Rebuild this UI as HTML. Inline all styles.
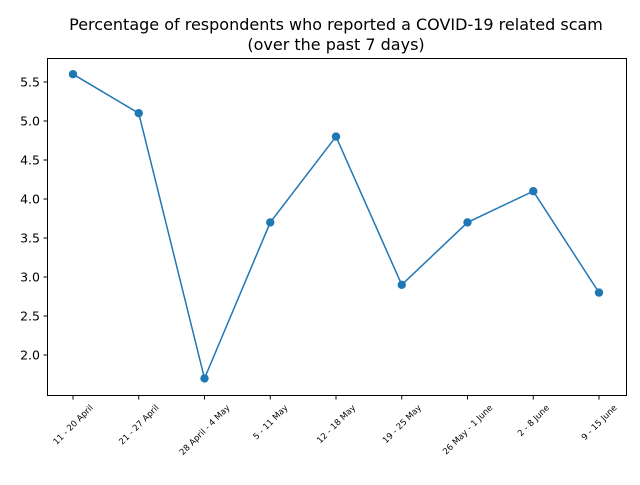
<!DOCTYPE html>
<html><head><meta charset="utf-8"><style>
body{margin:0;background:#fff;font-family:"Liberation Sans","DejaVu Sans",sans-serif;}
</style></head><body>
<svg id="chart" width="640" height="480" xmlns="http://www.w3.org/2000/svg" font-family="DejaVu Sans, Liberation Sans, sans-serif">
<rect width="640" height="480" fill="#fff"/>
<text x="336" y="30" text-anchor="middle" font-size="16">Percentage of respondents who reported a COVID-19 related scam</text>
<text x="336" y="50" text-anchor="middle" font-size="16">(over the past 7 days)</text>
<g id="axes"></g>
<g id="marks"></g>
<rect x="47.5" y="58.5" width="579" height="337" fill="none" stroke="#000" stroke-width="1"/>
</svg>
<script>
const categories=["11 - 20 April","21 - 27 April","28 April - 4 May","5 - 11 May","12 - 18 May","19 - 25 May","26 May - 1 June","2 - 8 June","9 - 15 June"];
const values=[5.6,5.1,1.7,3.7,4.8,2.9,3.7,4.1,2.8];
const yTicks=[2.0,2.5,3.0,3.5,4.0,4.5,5.0,5.5];
const NS="http://www.w3.org/2000/svg";
function xs(i){return 73+i*65.75;}
function ys(v){return 355-(v-2)*78;}
const axes=document.getElementById('axes'),marks=document.getElementById('marks');
function mk(t,a,p){const e=document.createElementNS(NS,t);for(const k in a)e.setAttribute(k,a[k]);p.appendChild(e);return e;}
yTicks.forEach(v=>{
 const l=mk('line',{x1:43.5,x2:47.5,y1:ys(v),y2:ys(v),stroke:'#000'},axes);
 
 
 const t=mk('text',{x:40,y:ys(v)+4.5,'text-anchor':'end','font-size':'12.5'},axes);
 t.textContent=v.toFixed(1);
 
 
});
categories.forEach((c,i)=>{
 const x=xs(i);
 const l=mk('line',{x1:x,x2:x,y1:395.5,y2:399.5,stroke:'#000'},axes);
 
 
 const t=mk('text',{x:x,y:0,'text-anchor':'middle','font-size':'8.5'},axes);
 t.textContent=c;
 
 
 const L=t.getComputedTextLength();
 const cy=403+L*0.354+3;
 t.setAttribute('y',cy+3);
 t.setAttribute('transform',`rotate(-45 ${x} ${cy})`);
});
const pl=mk('polyline',{points:values.map((v,i)=>xs(i)+','+ys(v)).join(' '),fill:'none',stroke:'#1f77b4','stroke-width':1.5},marks);


values.forEach((v,i)=>{
 const c=mk('circle',{cx:xs(i),cy:ys(v),r:4.2,fill:'#1f77b4'},marks);
 
 
});
</script>
</body></html>
